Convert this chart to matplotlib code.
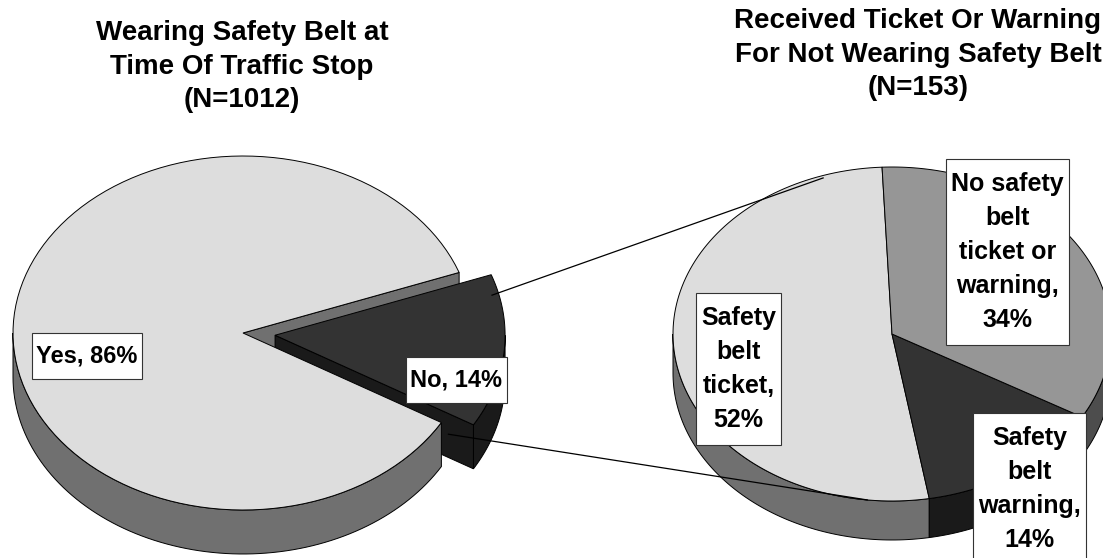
import numpy as np
import matplotlib.pyplot as plt
from matplotlib.patches import Polygon
from matplotlib.path import Path

# seat belt use at the stop (N=1012)
belt_names = ["Yes", "No"]
belt_pct = [86, 14]
belt_title = "Wearing Safety Belt at\nTime Of Traffic Stop\n(N=1012)"

# outcome for the drivers not wearing a belt (N=153)
outcome_names = ["Safety belt ticket", "Safety belt warning", "No safety belt ticket or warning"]
outcome_lines = ["Safety\nbelt\nticket", "Safety\nbelt\nwarning", "No safety\nbelt\nticket or\nwarning"]
outcome_pct = [52, 14, 34]
outcome_title = "Received Ticket Or Warning\nFor Not Wearing Safety Belt\n(N=153)"

W, H = 1103, 558
FONT = "Liberation Sans"


def ellipse_pts(cx, cy, a, b, ang, r=1.0):
    t = np.radians(np.atleast_1d(ang))
    return np.column_stack([cx + r * a * np.cos(t), cy - r * b * np.sin(t)])


def wedge_edges(values, start):
    frac = np.asarray(values, float) / np.sum(values)
    return start + 360 * np.concatenate([[0], np.cumsum(frac)])


def slice_faces(cx, cy, a, b, depth, t0, t1):
    """top face, visible rim walls and visible cut faces of one 3d wedge"""
    down = np.array([0, depth])
    top = np.vstack([[cx, cy], ellipse_pts(cx, cy, a, b, np.linspace(t0, t1, 120))])
    outer = []
    k0 = int(np.floor(t0 / 360))
    for k in range(k0 - 1, k0 + 2):
        lo, hi = max(t0, 180 + 360 * k), min(t1, 360 + 360 * k)
        if hi > lo:
            rim = ellipse_pts(cx, cy, a, b, np.linspace(lo, hi, 90))
            outer.append(np.vstack([rim, rim[::-1] + down]))

    def cut(t):
        p = ellipse_pts(cx, cy, a, b, t)[0]
        return np.array([[cx, cy], p, p + down, [cx, cy + depth]])

    cut0 = cut(t0) if np.cos(np.radians(t0)) > 0 else None
    cut1 = cut(t1) if np.cos(np.radians(t1)) < 0 else None
    return dict(top=top, outer=outer, cut0=cut0, cut1=cut1)


def add_poly(ax, pts, color, z):
    ax.add_patch(Polygon(pts, closed=True, facecolor=color, edgecolor="black",
                         linewidth=0.7, joinstyle="miter", zorder=z))


def label_box(pad_x, pad_y):
    def style(x0, y0, width, height, mutation_size):
        px, py = pad_x * mutation_size, pad_y * mutation_size
        x0, y0 = x0 - px, y0 - py
        x1, y1 = x0 + width + 2 * px, y0 + height + 2 * py
        return Path([(x0, y0), (x1, y0), (x1, y1), (x0, y1), (x0, y0)], closed=True)
    return style


def put_label(ax, x, y, text, size, ls=1.2):
    ax.text(x, y, text, ha="center", va="center", multialignment="center",
            fontsize=size, fontweight="bold", family=FONT, linespacing=ls, zorder=10,
            bbox=dict(boxstyle=label_box(0.2, 0.5), facecolor="white",
                      edgecolor="#333333", linewidth=0.8))


fig = plt.figure(figsize=(W / 100, H / 100), dpi=100)
ax = fig.add_axes([0, 0, 1, 1])
ax.set_xlim(0, W)
ax.set_ylim(H, 0)
ax.axis("off")

# ---- left pie: Yes / No, the No slice pulled out to the right ----
lcx, lcy, la, lb, ldep = 243, 333, 230, 177, 44
ledges = wedge_edges(belt_pct, 20)
l_top = ["#dddddd", "#333333"]
l_side = ["#707070", "#1a1a1a"]
explode = 0.14
mid = np.radians((ledges[1] + ledges[2]) / 2)
ox, oy = explode * la * np.cos(mid), -explode * lb * np.sin(mid)

yes = slice_faces(lcx, lcy, la, lb, ldep, ledges[0], ledges[1])
no = slice_faces(lcx + ox, lcy + oy, la, lb, ldep, ledges[1], ledges[2])

if yes["cut0"] is not None:
    add_poly(ax, yes["cut0"], l_side[0], 1)
for part in no["outer"] + [no["cut0"]]:
    if part is not None:
        add_poly(ax, part, l_side[1], 2)
for part in yes["outer"]:
    add_poly(ax, part, l_side[0], 3)
add_poly(ax, yes["top"], l_top[0], 4)
add_poly(ax, no["top"], l_top[1], 5)

# ---- right pie: breakdown of the No slice ----
rcx, rcy, ra, rb, rdep = 892, 334, 219, 167, 39
redges = wedge_edges(outcome_pct, 92.6)
r_top = ["#dddddd", "#333333", "#969696"]
r_side = ["#707070", "#1a1a1a", "#4d4d4d"]
for i in range(len(outcome_pct)):
    f = slice_faces(rcx, rcy, ra, rb, rdep, redges[i], redges[i + 1])
    for part in f["outer"]:
        add_poly(ax, part, r_side[i], 1)
    add_poly(ax, f["top"], r_top[i], 2)

# ---- connector lines between the pies ----
p_top = ellipse_pts(lcx + ox, lcy + oy, la, lb, ledges[2] - 6.5, 0.97)[0]
edge_end = ellipse_pts(lcx + ox, lcy + oy, la, lb, ledges[1])[0]
apex = np.array([lcx + ox, lcy + oy])
p_bot = apex + 0.874 * (edge_end - apex) + np.array([0, 0.47 * ldep])
q_top = ellipse_pts(rcx, rcy, ra, rb, 108.6, 0.986)[0]
q_bot = ellipse_pts(rcx, rcy, ra, rb, 263.5, 1.0)[0]
for p, q in [(p_top, q_top), (p_bot, q_bot)]:
    ax.plot([p[0], q[0]], [p[1], q[1]], color="black", linewidth=0.9, zorder=8)

# ---- data labels ----
put_label(ax, 87, 356, f"{belt_names[0]}, {belt_pct[0]}%", 17)
put_label(ax, 456.5, 380, f"{belt_names[1]}, {belt_pct[1]}%", 17)
r_pos = [(738.5, 369), (1029.5, 489), (1007.5, 252)]
for (x, y), txt, pct in zip(r_pos, outcome_lines, outcome_pct):
    put_label(ax, x, y, f"{txt},\n{pct}%", 18, ls=1.53)

# ---- titles ----
ax.text(242, 20, belt_title, ha="center", va="top", multialignment="center",
        fontsize=20, fontweight="bold", family=FONT, linespacing=1.38)
ax.text(918, 8, outcome_title, ha="center", va="top", multialignment="center",
        fontsize=20, fontweight="bold", family=FONT, linespacing=1.38)

fig.savefig("out.png", dpi=100)
